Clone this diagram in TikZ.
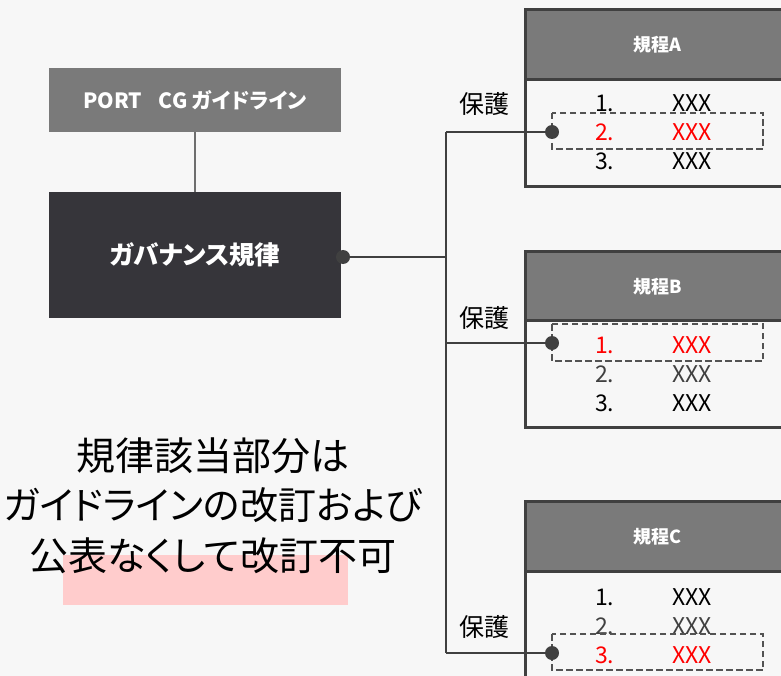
\documentclass[tikz,border=0pt]{standalone}
\usepackage{fontspec}
\setmainfont{Noto Sans CJK JP}[RawFeature=+palt]
\definecolor{bg}{HTML}{F7F7F7}
\definecolor{hdr}{HTML}{7A7A7A}
\definecolor{govc}{HTML}{36353A}
\definecolor{ln}{HTML}{404040}
\definecolor{pinkc}{HTML}{FFCCCC}
\definecolor{redc}{HTML}{FF0000}
\tikzset{
  hdrbox/.style={fill=hdr, draw=ln, line width=2.8pt, minimum width=264pt, minimum height=70pt, anchor=north west, text=white, font=\bfseries\fontsize{18}{21}\selectfont, inner sep=0pt},
  bodybox/.style={fill=bg, draw=ln, line width=2.8pt, minimum width=264pt, anchor=north west, inner sep=0pt},
  dashbox/.style={draw=ln!90, line width=2.2pt, dash pattern=on 6.5pt off 3.5pt},
  num/.style={anchor=west, font=\fontsize{23}{26}\selectfont, inner sep=0pt},
  xxx/.style={anchor=center, font=\fontsize{23}{26}\selectfont, inner sep=0pt},
  conn/.style={draw=ln, line width=2.8pt},
  dotc/.style={circle, fill=ln, inner sep=0pt, minimum size=14pt},
  hogo/.style={font=\fontsize{25}{28}\selectfont, inner sep=0pt},
}
\begin{document}
\begin{tikzpicture}[x=1pt,y=-1pt]
\useasboundingbox (0,0) rectangle (781,676);
\clip (0,0) rectangle (781,676);
\fill[bg] (0,0) rectangle (781,676);

% left boxes
\node[fill=hdr, minimum width=292pt, minimum height=64pt, inner sep=0pt, text=white, font=\bfseries\fontsize{21}{24}\selectfont] (port) at (195,100) {PORT\hspace{0.8em}CG ガイドライン};
\node[fill=govc, minimum width=292pt, minimum height=126pt, inner sep=0pt, text=white, font=\bfseries\fontsize{25.5}{30}\selectfont] (gov) at (195,255) {ガバナンス規律};
\draw[hdr!90!black, line width=1.5pt] (port.south) -- (gov.north);

% right boxes
\node[hdrbox] (hA) at (524,8) {規程A};
\node[bodybox, minimum height=107pt] (bA) at (524,78) {};
\node[hdrbox] (hB) at (524,250) {規程B};
\node[bodybox, minimum height=107pt] (bB) at (524,319) {};
\node[hdrbox] (hC) at (524,500) {規程C};
\node[bodybox, minimum height=130pt] (bC) at (524,570) {};

% items A
\node[num] (a1n) at (595,103) {1.};  \node[xxx] (a1x) at (692,103) {XXX};
\node[num, text=redc] (a2n) at (595,132) {2.};  \node[xxx, text=redc] (a2x) at (692,132) {XXX};
\node[num] (a3n) at (595,161) {3.};  \node[xxx] (a3x) at (692,161) {XXX};
% items B
\node[num, text=redc] (b1n) at (595,345) {1.};  \node[xxx, text=redc] (b1x) at (692,345) {XXX};
\node[num, text=ln] (b2n) at (595,374) {2.};  \node[xxx, text=ln] (b2x) at (692,374) {XXX};
\node[num] (b3n) at (595,403) {3.};  \node[xxx] (b3x) at (692,403) {XXX};
% items C
\node[num] (c1n) at (595,597) {1.};  \node[xxx] (c1x) at (692,597) {XXX};
\node[num, text=ln] (c2n) at (595,626) {2.};  \node[xxx, text=ln] (c2x) at (692,626) {XXX};
\node[num, text=redc] (c3n) at (595,655) {3.};  \node[xxx, text=redc] (c3x) at (692,655) {XXX};

% dashed boxes
\draw[dashbox] (552,113) rectangle (763,149);
\draw[dashbox] (552,324) rectangle (763,361);
\draw[dashbox] (552,634) rectangle (763,670);

% connectors
\coordinate (j0) at (446,257);
\coordinate (jA) at (446,132);
\coordinate (jB) at (446,343);
\coordinate (jC) at (446,653);
\node[dotc] (dg) at (343,257) {};
\node[dotc] (dA) at (552,132) {};
\node[dotc] (dB) at (552,343) {};
\node[dotc] (dC) at (552,653) {};
\draw[conn] (dg.center) -- (j0);
\draw[conn] (jA) -- (jC);
\draw[conn] (jA) -- (dA.center);
\draw[conn] (jB) -- (dB.center);
\draw[conn] (jC) -- (dC.center);

% labels
\node[hogo] (lA) at (484,104) {保護};
\node[hogo] (lB) at (484,318) {保護};
\node[hogo] (lC) at (484,627) {保護};

% big note
\fill[pinkc] (63,555) rectangle (348,605);
\node[font=\fontsize{39}{50}\selectfont, inner sep=0pt] (n1) at (213,456) {規律該当部分は};
\node[font=\fontsize{38}{50}\selectfont, inner sep=0pt] (n2) at (213,505) {ガイドラインの改訂および};
\node[font=\fontsize{39}{50}\selectfont, inner sep=0pt] (n3) at (213,556) {公表なくして改訂不可};
\end{tikzpicture}
\end{document}
